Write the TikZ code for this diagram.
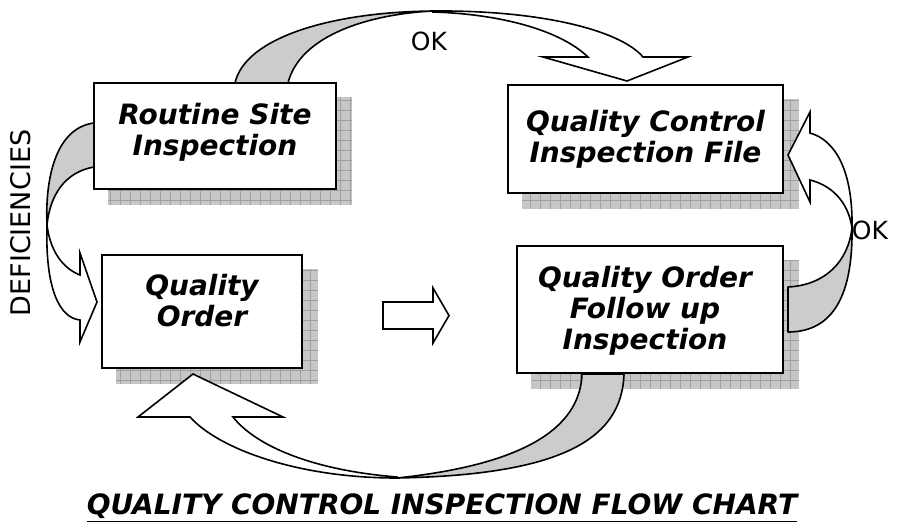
\documentclass[tikz,border=0pt]{standalone}
\usepackage{fontspec}
\setmainfont{DejaVu Sans}
\usetikzlibrary{backgrounds}

\tikzset{
  box/.style={draw=black, line width=1pt, fill=white, inner sep=0pt},
  boxtext/.style={align=center, font=\fontsize{14}{15.5}\selectfont\bfseries\itshape},
  arrback/.style={draw=black, line width=0.8pt, fill=gray!40, line join=round},
  arrfront/.style={draw=black, line width=0.8pt, fill=white},
  lbl/.style={font=\fontsize{12.5}{14}\selectfont},
}

% grey chequered shadow behind a box
\newcommand{\boxshadow}[1]{%
  \begin{scope}
    \clip ([shift={(15,15)}]#1.south west) rectangle ([shift={(15,15)}]#1.north east);
    \fill[gray!45] ([shift={(15,15)}]#1.south west) rectangle ([shift={(15,15)}]#1.north east);
    \draw[gray!75, line width=0.4pt, step=5pt] ([shift={(15,15)}]#1.south west) grid ([shift={(15,15)}]#1.north east);
  \end{scope}}

\begin{document}
\begin{tikzpicture}[x=0.5pt, y=-0.5pt]
    \useasboundingbox (0,0) rectangle (899,521);

    % OK arrow over the top
    \draw[arrback] (235,83) .. controls (245,38) and (330,12) .. (433,11)
        .. controls (370,14) and (300,35) .. (288,83) -- cycle;
    \draw[arrfront] (433,11) .. controls (540,10) and (620,30) .. (643,57)
        -- (688,57) -- (627,81) -- (543,57) -- (588,57)
        .. controls (560,30) and (500,14) .. (433,12) -- cycle;

    % Deficiencies arrow on the left
    \draw[arrback] (94,123) .. controls (55,128) and (45,180) .. (47,225)
        .. controls (50,195) and (65,172) .. (94,167) -- cycle;
    \draw[arrfront] (47,225) .. controls (45,290) and (60,318) .. (80,320)
        -- (80,342) -- (97,302) -- (80,253) -- (80,275)
        .. controls (62,268) and (50,250) .. (47,225) -- cycle;

    % Straight arrow in the middle
    \draw[arrfront] (383,302) -- (433,302) -- (433,288) -- (449,315.5)
        -- (433,343) -- (433,329) -- (383,329) -- cycle;

    % OK arrow on the right
    \draw[arrback] (788,287) .. controls (825,285) and (848,262) .. (852,228)
        .. controls (853,300) and (830,332) .. (788,332) -- cycle;
    \draw[arrfront] (852,228) .. controls (853,170) and (835,140) .. (810,133)
        -- (810,112) -- (788,155) -- (810,202) -- (810,180)
        .. controls (830,185) and (848,200) .. (852,228) -- cycle;

    % Arrow back along the bottom
    \draw[arrback] (582,374) .. controls (580,430) and (520,465) .. (397,478)
        .. controls (560,475) and (622,440) .. (624,374) -- cycle;
    \draw[arrfront] (397,478) .. controls (300,478) and (220,450) .. (190,417)
        -- (138,417) -- (193,374) -- (283,417) -- (233,417)
        .. controls (255,445) and (310,470) .. (397,477) -- cycle;

    % Boxes
    \node[box, minimum width=121pt, minimum height=53pt] (rsi) at (215,136) {};
    \node[box, minimum width=137.5pt, minimum height=54pt] (qcf) at (645.5,139) {};
    \node[box, minimum width=100pt, minimum height=56.5pt] (qo) at (202,311.5) {};
    \node[box, minimum width=133pt, minimum height=63.5pt] (qof) at (650,309.5) {};

    % Box texts
    \node[boxtext] (rsitext) at (215,132) {Routine Site\\Inspection};
    \node[boxtext] (qcftext) at (645.5,139) {Quality Control\\Inspection File};
    \node[boxtext] (qotext) at (202,301) {Quality\\Order};
    \node[boxtext] (qoftext) at (645,311) {Quality Order\\Follow up\\Inspection};

    % Shadows
    \begin{scope}[on background layer]
        \boxshadow{rsi}
        \boxshadow{qcf}
        \boxshadow{qo}
        \boxshadow{qof}
    \end{scope}

    % Labels
    \node[lbl] (oktop) at (429,41) {OK};
    \node[lbl] (okright) at (870,230) {OK};
    \node[lbl, font=\fontsize{13.5}{15}\selectfont, rotate=90] (defic) at (21,223) {DEFICIENCIES};

    % Title
    \node[anchor=base, font=\fontsize{14}{16}\selectfont\bfseries\itshape] (title) at (442,514)
        {\underline{QUALITY CONTROL INSPECTION FLOW CHART}};
\end{tikzpicture}
\end{document}
